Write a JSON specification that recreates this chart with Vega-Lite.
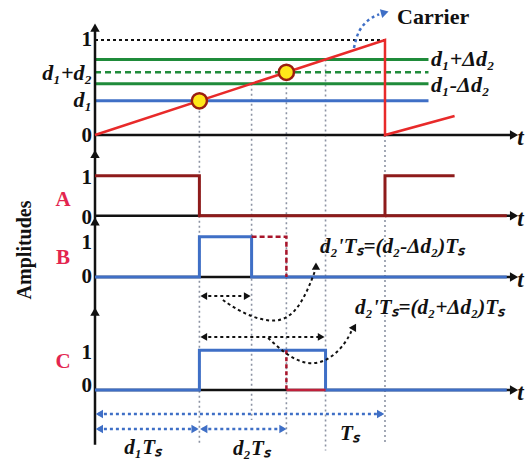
{
  "$schema": "https://vega.github.io/schema/vega-lite/v6.json",
  "width": 529,
  "height": 460,
  "padding": 0,
  "autosize": "none",
  "background": "white",
  "config": {"view": {"stroke": null}},
  "datasets": {
    "guides": [
      {"t": 0.36, "y": 0.36, "y2": -3.24},
      {"t": 0.54, "y": 0.54, "y2": -3.0},
      {"t": 0.66, "y": 0.66, "y2": -3.15},
      {"t": 0.795, "y": 0.795, "y2": -3.32},
      {"t": 1.0, "y": 1.0, "y2": -3.26}
    ],
    "axes": [
      {"t": 0, "t2": 1.44, "y": 0, "y2": 0},
      {"t": 0, "t2": 1.44, "y": -0.85, "y2": -0.85},
      {"t": 0, "t2": 1.44, "y": -1.495, "y2": -1.495},
      {"t": 0, "t2": 1.44, "y": -2.685, "y2": -2.685},
      {"t": 0, "t2": 0, "y": 1.12, "y2": -3.26}
    ],
    "axisRight": [
      {"t": 1.445, "y": 0},
      {"t": 1.445, "y": -0.85},
      {"t": 1.445, "y": -1.495},
      {"t": 1.445, "y": -2.685}
    ],
    "axisUp": [
      {"t": 0, "y": 1.13},
      {"t": 0, "y": -0.2},
      {"t": 0, "y": -0.91},
      {"t": 0, "y": -1.86}
    ],
    "greenSolid": [
      {"t": 0, "t2": 1.15, "y": 0.795},
      {"t": 0, "t2": 1.15, "y": 0.54}
    ],
    "greenDashed": [{"t": 0, "t2": 1.15, "y": 0.66}],
    "blueLevel": [{"t": 0, "t2": 1.15, "y": 0.36}],
    "topLevel": [{"t": 0, "t2": 1.0, "y": 1.0}],
    "carrier": [
      {"i": 0, "t": 0, "y": 0},
      {"i": 1, "t": 1.0, "y": 1.0},
      {"i": 2, "t": 1.0, "y": 0},
      {"i": 3, "t": 1.24, "y": 0.2}
    ],
    "sigA": [
      {"s": "a", "i": 0, "t": 0, "y": -0.43},
      {"s": "a", "i": 1, "t": 0.36, "y": -0.43},
      {"s": "a", "i": 2, "t": 0.36, "y": -0.85},
      {"s": "a", "i": 3, "t": 1.0, "y": -0.85},
      {"s": "a", "i": 4, "t": 1.0, "y": -0.43},
      {"s": "a", "i": 5, "t": 1.24, "y": -0.43},
      {"s": "b", "i": 0, "t": 1.0, "y": -0.85},
      {"s": "b", "i": 1, "t": 1.42, "y": -0.85}
    ],
    "sigB": [
      {"i": 0, "t": 0, "y": -1.495},
      {"i": 1, "t": 0.36, "y": -1.495},
      {"i": 2, "t": 0.36, "y": -1.07},
      {"i": 3, "t": 0.54, "y": -1.07},
      {"i": 4, "t": 0.54, "y": -1.495},
      {"i": 5, "t": 1.42, "y": -1.495}
    ],
    "sigBred": [
      {"i": 0, "t": 0.54, "y": -1.07},
      {"i": 1, "t": 0.66, "y": -1.07},
      {"i": 2, "t": 0.66, "y": -1.495}
    ],
    "sigC": [
      {"i": 0, "t": 0, "y": -2.685},
      {"i": 1, "t": 0.36, "y": -2.685},
      {"i": 2, "t": 0.36, "y": -2.265},
      {"i": 3, "t": 0.795, "y": -2.265},
      {"i": 4, "t": 0.795, "y": -2.685},
      {"i": 5, "t": 1.42, "y": -2.685}
    ],
    "sigCredDash": [{"t": 0.66, "y": -2.265, "y2": -2.685}],
    "sigCredSolid": [{"t": 0.66, "t2": 0.795, "y": -2.685}],
    "crossings": [
      {"t": 0.36, "y": 0.36},
      {"t": 0.66, "y": 0.66}
    ],
    "blackDbl": [
      {"t": 0.37, "t2": 0.53, "y": -1.695},
      {"t": 0.37, "t2": 0.785, "y": -2.126}
    ],
    "blackLeft": [
      {"t": 0.375, "y": -1.695},
      {"t": 0.375, "y": -2.126}
    ],
    "blackRight": [
      {"t": 0.525, "y": -1.695},
      {"t": 0.78, "y": -2.126}
    ],
    "curves": [
      {"c": 1, "i": 0, "t": 0.441, "y": -1.737},
      {"c": 1, "i": 1, "t": 0.517, "y": -1.895},
      {"c": 1, "i": 2, "t": 0.628, "y": -1.99},
      {"c": 1, "i": 3, "t": 0.693, "y": -1.863},
      {"c": 1, "i": 4, "t": 0.734, "y": -1.632},
      {"c": 1, "i": 5, "t": 0.76, "y": -1.42},
      {"c": 2, "i": 0, "t": 0.597, "y": -2.137},
      {"c": 2, "i": 1, "t": 0.672, "y": -2.347},
      {"c": 2, "i": 2, "t": 0.752, "y": -2.432},
      {"c": 2, "i": 3, "t": 0.821, "y": -2.337},
      {"c": 2, "i": 4, "t": 0.866, "y": -2.179},
      {"c": 2, "i": 5, "t": 0.885, "y": -2.06}
    ],
    "curve1Head": [{"t": 0.762, "y": -1.38}],
    "curve2Head": [{"t": 0.892, "y": -2.03}],
    "carrierArrow": [
      {"i": 0, "t": 0.893, "y": 0.916},
      {"i": 1, "t": 0.907, "y": 1.105},
      {"i": 2, "t": 0.948, "y": 1.232},
      {"i": 3, "t": 0.98, "y": 1.27}
    ],
    "carrierHead": [{"t": 0.995, "y": 1.285}],
    "dims": [
      {"t": 0.01, "t2": 0.99, "y": -2.937},
      {"t": 0.01, "t2": 0.35, "y": -3.095},
      {"t": 0.37, "t2": 0.65, "y": -3.095}
    ],
    "dimLeft": [
      {"t": 0.015, "y": -2.937},
      {"t": 0.015, "y": -3.095},
      {"t": 0.375, "y": -3.095}
    ],
    "dimRight": [
      {"t": 0.985, "y": -2.937},
      {"t": 0.345, "y": -3.095},
      {"t": 0.648, "y": -3.095}
    ],
    "ticks": [
      {"t": -0.01, "y": 1.0, "label": "1"},
      {"t": -0.01, "y": -0.01, "label": "0"},
      {"t": -0.01, "y": -0.453, "label": "1"},
      {"t": -0.01, "y": -0.874, "label": "0"},
      {"t": -0.01, "y": -1.137, "label": "1"},
      {"t": -0.01, "y": -1.495, "label": "0"},
      {"t": -0.01, "y": -2.295, "label": "1"},
      {"t": -0.01, "y": -2.642, "label": "0"}
    ],
    "leftLevels": [
      {"t": -0.01, "y": 0.653, "label": "d₁+d₂"},
      {"t": -0.01, "y": 0.368, "label": "d₁"}
    ],
    "rightLevels": [
      {"t": 1.159, "y": 0.8, "label": "d₁+Δd₂"},
      {"t": 1.159, "y": 0.526, "label": "d₁-Δd₂"}
    ],
    "panels": [
      {"t": -0.11, "y": -0.684, "label": "A"},
      {"t": -0.11, "y": -1.295, "label": "B"},
      {"t": -0.11, "y": -2.389, "label": "C"}
    ],
    "tLabels": [
      {"t": 1.456, "y": -0.03, "label": "t"},
      {"t": 1.456, "y": -0.88, "label": "t"},
      {"t": 1.456, "y": -1.525, "label": "t"},
      {"t": 1.456, "y": -2.715, "label": "t"}
    ],
    "formulas": [
      {"t": 0.776, "y": -1.179, "label": "d₂'Tₛ=(d₂-Δd₂)Tₛ"},
      {"t": 0.897, "y": -1.821, "label": "d₂'Tₛ=(d₂+Δd₂)Tₛ"}
    ],
    "dimLabels": [
      {"t": 0.166, "y": -3.295, "label": "d₁Tₛ"},
      {"t": 0.541, "y": -3.305, "label": "d₂Tₛ"},
      {"t": 0.879, "y": -3.147, "label": "Tₛ"}
    ],
    "title": [{"t": -0.241, "y": -1.21, "label": "Amplitudes"}],
    "carrierLabel": [{"t": 1.166, "y": 1.242, "label": "Carrier"}]
  },
  "resolve": {"scale": {"x": "shared", "y": "shared"}},
  "encoding": {
    "x": {"field": "t", "type": "quantitative", "scale": {"domain": [-0.3276, 1.4966], "nice": false, "zero": false}, "axis": null},
    "y": {"field": "y", "type": "quantitative", "scale": {"domain": [-3.421, 1.421], "nice": false, "zero": false}, "axis": null}
  },
  "layer": [
    {"data": {"name": "guides"}, "mark": {"type": "rule", "color": "#8C93A3", "strokeWidth": 1.6, "strokeDash": [2, 3]}, "encoding": {"y2": {"field": "y2"}}},
    {"data": {"name": "topLevel"}, "mark": {"type": "rule", "color": "#111111", "strokeWidth": 2, "strokeDash": [3, 3]}, "encoding": {"x2": {"field": "t2"}}},
    {"data": {"name": "greenSolid"}, "mark": {"type": "rule", "color": "#1F8B3A", "strokeWidth": 3}, "encoding": {"x2": {"field": "t2"}}},
    {"data": {"name": "greenDashed"}, "mark": {"type": "rule", "color": "#1F8B3A", "strokeWidth": 2.5, "strokeDash": [6, 4]}, "encoding": {"x2": {"field": "t2"}}},
    {"data": {"name": "blueLevel"}, "mark": {"type": "rule", "color": "#3F6FC6", "strokeWidth": 3}, "encoding": {"x2": {"field": "t2"}}},
    {"data": {"name": "axes"}, "mark": {"type": "rule", "color": "#111111", "strokeWidth": 2.5}, "encoding": {"x2": {"field": "t2"}, "y2": {"field": "y2"}}},
    {"data": {"name": "axisRight"}, "mark": {"type": "point", "shape": "triangle-right", "filled": true, "color": "#111111", "size": 90, "opacity": 1}},
    {"data": {"name": "axisUp"}, "mark": {"type": "point", "shape": "triangle-up", "filled": true, "color": "#111111", "size": 90, "opacity": 1}},
    {"data": {"name": "carrier"}, "mark": {"type": "line", "color": "#E82A2A", "strokeWidth": 2.5}, "encoding": {"order": {"field": "i"}}},
    {"data": {"name": "sigA"}, "mark": {"type": "line", "color": "#8E1B1B", "strokeWidth": 3}, "encoding": {"detail": {"field": "s"}, "order": {"field": "i"}}},
    {"data": {"name": "sigB"}, "mark": {"type": "line", "color": "#3F6FC6", "strokeWidth": 3}, "encoding": {"order": {"field": "i"}}},
    {"data": {"name": "sigBred"}, "mark": {"type": "line", "color": "#A8142A", "strokeWidth": 2.5, "strokeDash": [5, 3]}, "encoding": {"order": {"field": "i"}}},
    {"data": {"name": "sigC"}, "mark": {"type": "line", "color": "#3F6FC6", "strokeWidth": 3}, "encoding": {"order": {"field": "i"}}},
    {"data": {"name": "sigCredDash"}, "mark": {"type": "rule", "color": "#A8142A", "strokeWidth": 2.5, "strokeDash": [4, 3]}, "encoding": {"y2": {"field": "y2"}}},
    {"data": {"name": "sigCredSolid"}, "mark": {"type": "rule", "color": "#C0203A", "strokeWidth": 2.5}, "encoding": {"x2": {"field": "t2"}}},
    {"data": {"name": "crossings"}, "mark": {"type": "point", "shape": "circle", "filled": true, "fill": "#FFE81A", "stroke": "#9A1E10", "strokeWidth": 2.5, "size": 230, "opacity": 1}},
    {"data": {"name": "blackDbl"}, "mark": {"type": "rule", "color": "#111111", "strokeWidth": 2, "strokeDash": [3, 3]}, "encoding": {"x2": {"field": "t2"}}},
    {"data": {"name": "blackLeft"}, "mark": {"type": "point", "shape": "triangle-left", "filled": true, "color": "#111111", "size": 60, "opacity": 1}},
    {"data": {"name": "blackRight"}, "mark": {"type": "point", "shape": "triangle-right", "filled": true, "color": "#111111", "size": 60, "opacity": 1}},
    {"data": {"name": "curves"}, "mark": {"type": "line", "color": "#111111", "strokeWidth": 2, "strokeDash": [3, 3], "interpolate": "basis"}, "encoding": {"detail": {"field": "c"}, "order": {"field": "i"}}},
    {"data": {"name": "curve1Head"}, "mark": {"type": "point", "shape": "triangle-up", "filled": true, "color": "#111111", "size": 70, "opacity": 1}},
    {"data": {"name": "curve2Head"}, "mark": {"type": "point", "shape": "triangle", "angle": 30, "filled": true, "color": "#111111", "size": 70, "opacity": 1}},
    {"data": {"name": "carrierArrow"}, "mark": {"type": "line", "color": "#3F6FC6", "strokeWidth": 2.5, "strokeDash": [3, 3], "interpolate": "basis"}, "encoding": {"order": {"field": "i"}}},
    {"data": {"name": "carrierHead"}, "mark": {"type": "point", "shape": "triangle", "angle": 75, "filled": true, "color": "#3F6FC6", "size": 80, "opacity": 1}},
    {"data": {"name": "dims"}, "mark": {"type": "rule", "color": "#3F6FC6", "strokeWidth": 2.5, "strokeDash": [3, 3]}, "encoding": {"x2": {"field": "t2"}}},
    {"data": {"name": "dimLeft"}, "mark": {"type": "point", "shape": "triangle-left", "filled": true, "color": "#3F6FC6", "size": 70, "opacity": 1}},
    {"data": {"name": "dimRight"}, "mark": {"type": "point", "shape": "triangle-right", "filled": true, "color": "#3F6FC6", "size": 70, "opacity": 1}},
    {"data": {"name": "ticks"}, "mark": {"type": "text", "font": "Liberation Serif", "fontWeight": "bold", "fontSize": 21, "align": "right", "baseline": "middle", "color": "#111111"}, "encoding": {"text": {"field": "label"}}},
    {"data": {"name": "leftLevels"}, "mark": {"type": "text", "font": "Liberation Serif", "fontWeight": "bold", "fontStyle": "italic", "fontSize": 22, "align": "right", "baseline": "middle", "color": "#111111"}, "encoding": {"text": {"field": "label"}}},
    {"data": {"name": "rightLevels"}, "mark": {"type": "text", "font": "Liberation Serif", "fontWeight": "bold", "fontStyle": "italic", "fontSize": 22, "align": "left", "baseline": "middle", "color": "#111111"}, "encoding": {"text": {"field": "label"}}},
    {"data": {"name": "panels"}, "mark": {"type": "text", "font": "Liberation Serif", "fontWeight": "bold", "fontSize": 21, "align": "center", "baseline": "middle", "color": "#E3264F"}, "encoding": {"text": {"field": "label"}}},
    {"data": {"name": "tLabels"}, "mark": {"type": "text", "font": "Liberation Serif", "fontWeight": "bold", "fontStyle": "italic", "fontSize": 23, "align": "left", "baseline": "middle", "color": "#111111"}, "encoding": {"text": {"field": "label"}}},
    {"data": {"name": "formulas"}, "mark": {"type": "text", "font": "Liberation Serif", "fontWeight": "bold", "fontStyle": "italic", "fontSize": 21, "align": "left", "baseline": "middle", "color": "#111111"}, "encoding": {"text": {"field": "label"}}},
    {"data": {"name": "dimLabels"}, "mark": {"type": "text", "font": "Liberation Serif", "fontWeight": "bold", "fontStyle": "italic", "fontSize": 21, "align": "center", "baseline": "middle", "color": "#111111"}, "encoding": {"text": {"field": "label"}}},
    {"data": {"name": "title"}, "mark": {"type": "text", "font": "Liberation Serif", "fontWeight": "bold", "fontSize": 20, "angle": 270, "align": "center", "baseline": "middle", "color": "#111111"}, "encoding": {"text": {"field": "label"}}},
    {"data": {"name": "carrierLabel"}, "mark": {"type": "text", "font": "Liberation Serif", "fontWeight": "bold", "fontSize": 22, "align": "center", "baseline": "middle", "color": "#111111"}, "encoding": {"text": {"field": "label"}}}
  ]
}
